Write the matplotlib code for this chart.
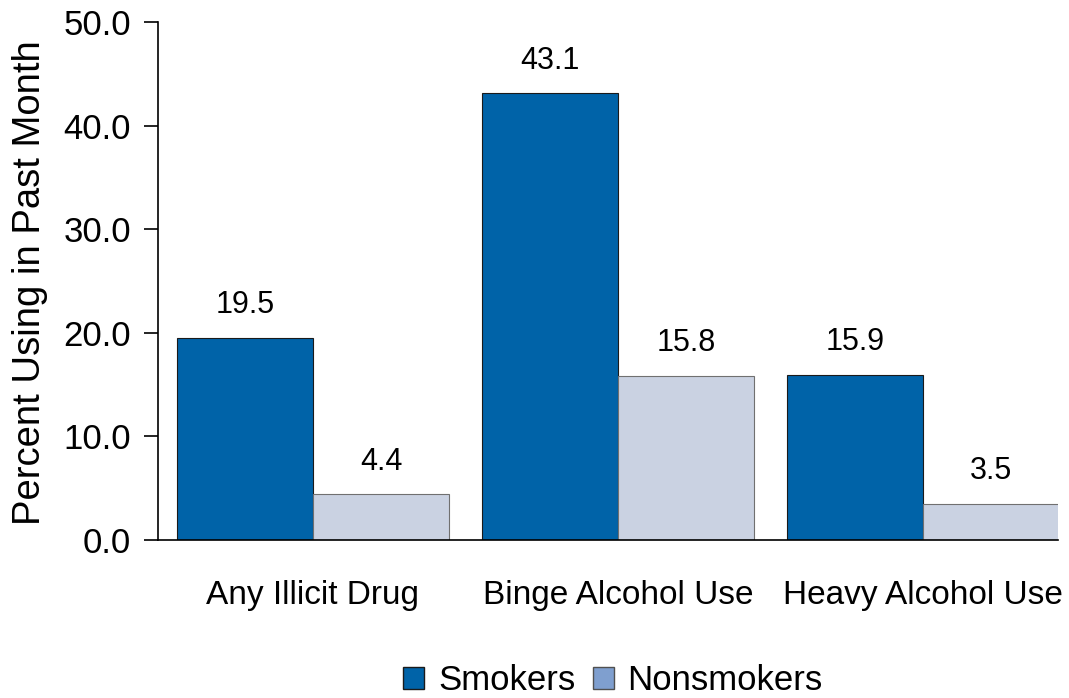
import matplotlib
matplotlib.use("Agg")
import matplotlib.pyplot as plt
from matplotlib.patches import Patch
import numpy as np

plt.rcParams['font.family'] = ['Liberation Sans', 'DejaVu Sans']

categories = ["Any Illicit Drug", "Binge Alcohol Use", "Heavy Alcohol Use"]
smokers = [19.5, 43.1, 15.9]
nonsmokers = [4.4, 15.8, 3.5]
yticks = [0, 10, 20, 30, 40, 50]

c_smk = "#0063A8"
c_non = "#CAD2E2"
c_non_leg = "#7F9FCF"

fig = plt.figure(figsize=(10.69, 6.98), dpi=100)
ax = fig.add_axes([158/1069, 1-540/698, (1058-158)/1069, (540-22)/698])

x = np.arange(len(categories))
w = 0.446
ax.bar(x - w/2, smokers, w, color=c_smk, edgecolor="#1a1a1a", linewidth=0.8)
ax.bar(x + w/2, nonsmokers, w, color=c_non, edgecolor="#707070", linewidth=0.8)

for xi, v in zip(x - w/2, smokers):
    ax.text(xi, v + 2.4, f"{v:.1f}", ha="center", va="baseline", fontsize=22)
for xi, v in zip(x + w/2, nonsmokers):
    ax.text(xi, v + 2.4, f"{v:.1f}", ha="center", va="baseline", fontsize=22)

ax.set_xlim(-0.508, 2.443)
ax.set_ylim(0, 50)
ax.set_yticks(yticks)
ax.set_yticklabels([f"{t:.1f}" for t in yticks], fontsize=25)
ax.set_xticks(x)
ax.set_xticklabels(categories, fontsize=24)
ax.tick_params(axis='x', length=0, pad=29)
ax.tick_params(axis='y', length=10, width=1.2, direction='out', pad=9.5)
for s in ["top", "right"]:
    ax.spines[s].set_visible(False)
ax.spines["left"].set_linewidth(1.2)
ax.spines["bottom"].set_linewidth(1.2)
ylab = ax.set_ylabel("Percent Using in Past Month", fontsize=27.5)
ax.yaxis.set_label_coords((30-158)/900, (540-283)/518)
ylab.set_va('center')

handles = [Patch(facecolor=c_smk, edgecolor="#1a1a1a", label="Smokers"),
           Patch(facecolor=c_non_leg, edgecolor="#505050", label="Nonsmokers")]
fig.legend(handles=handles, loc="center", bbox_to_anchor=(613/1069, 1-681/698),
           ncol=2, frameon=False, fontsize=25, handlelength=0.6, handleheight=0.6,
           handletextpad=0.4, columnspacing=0.5, borderpad=0)

fig.savefig("out.png", dpi=100)
